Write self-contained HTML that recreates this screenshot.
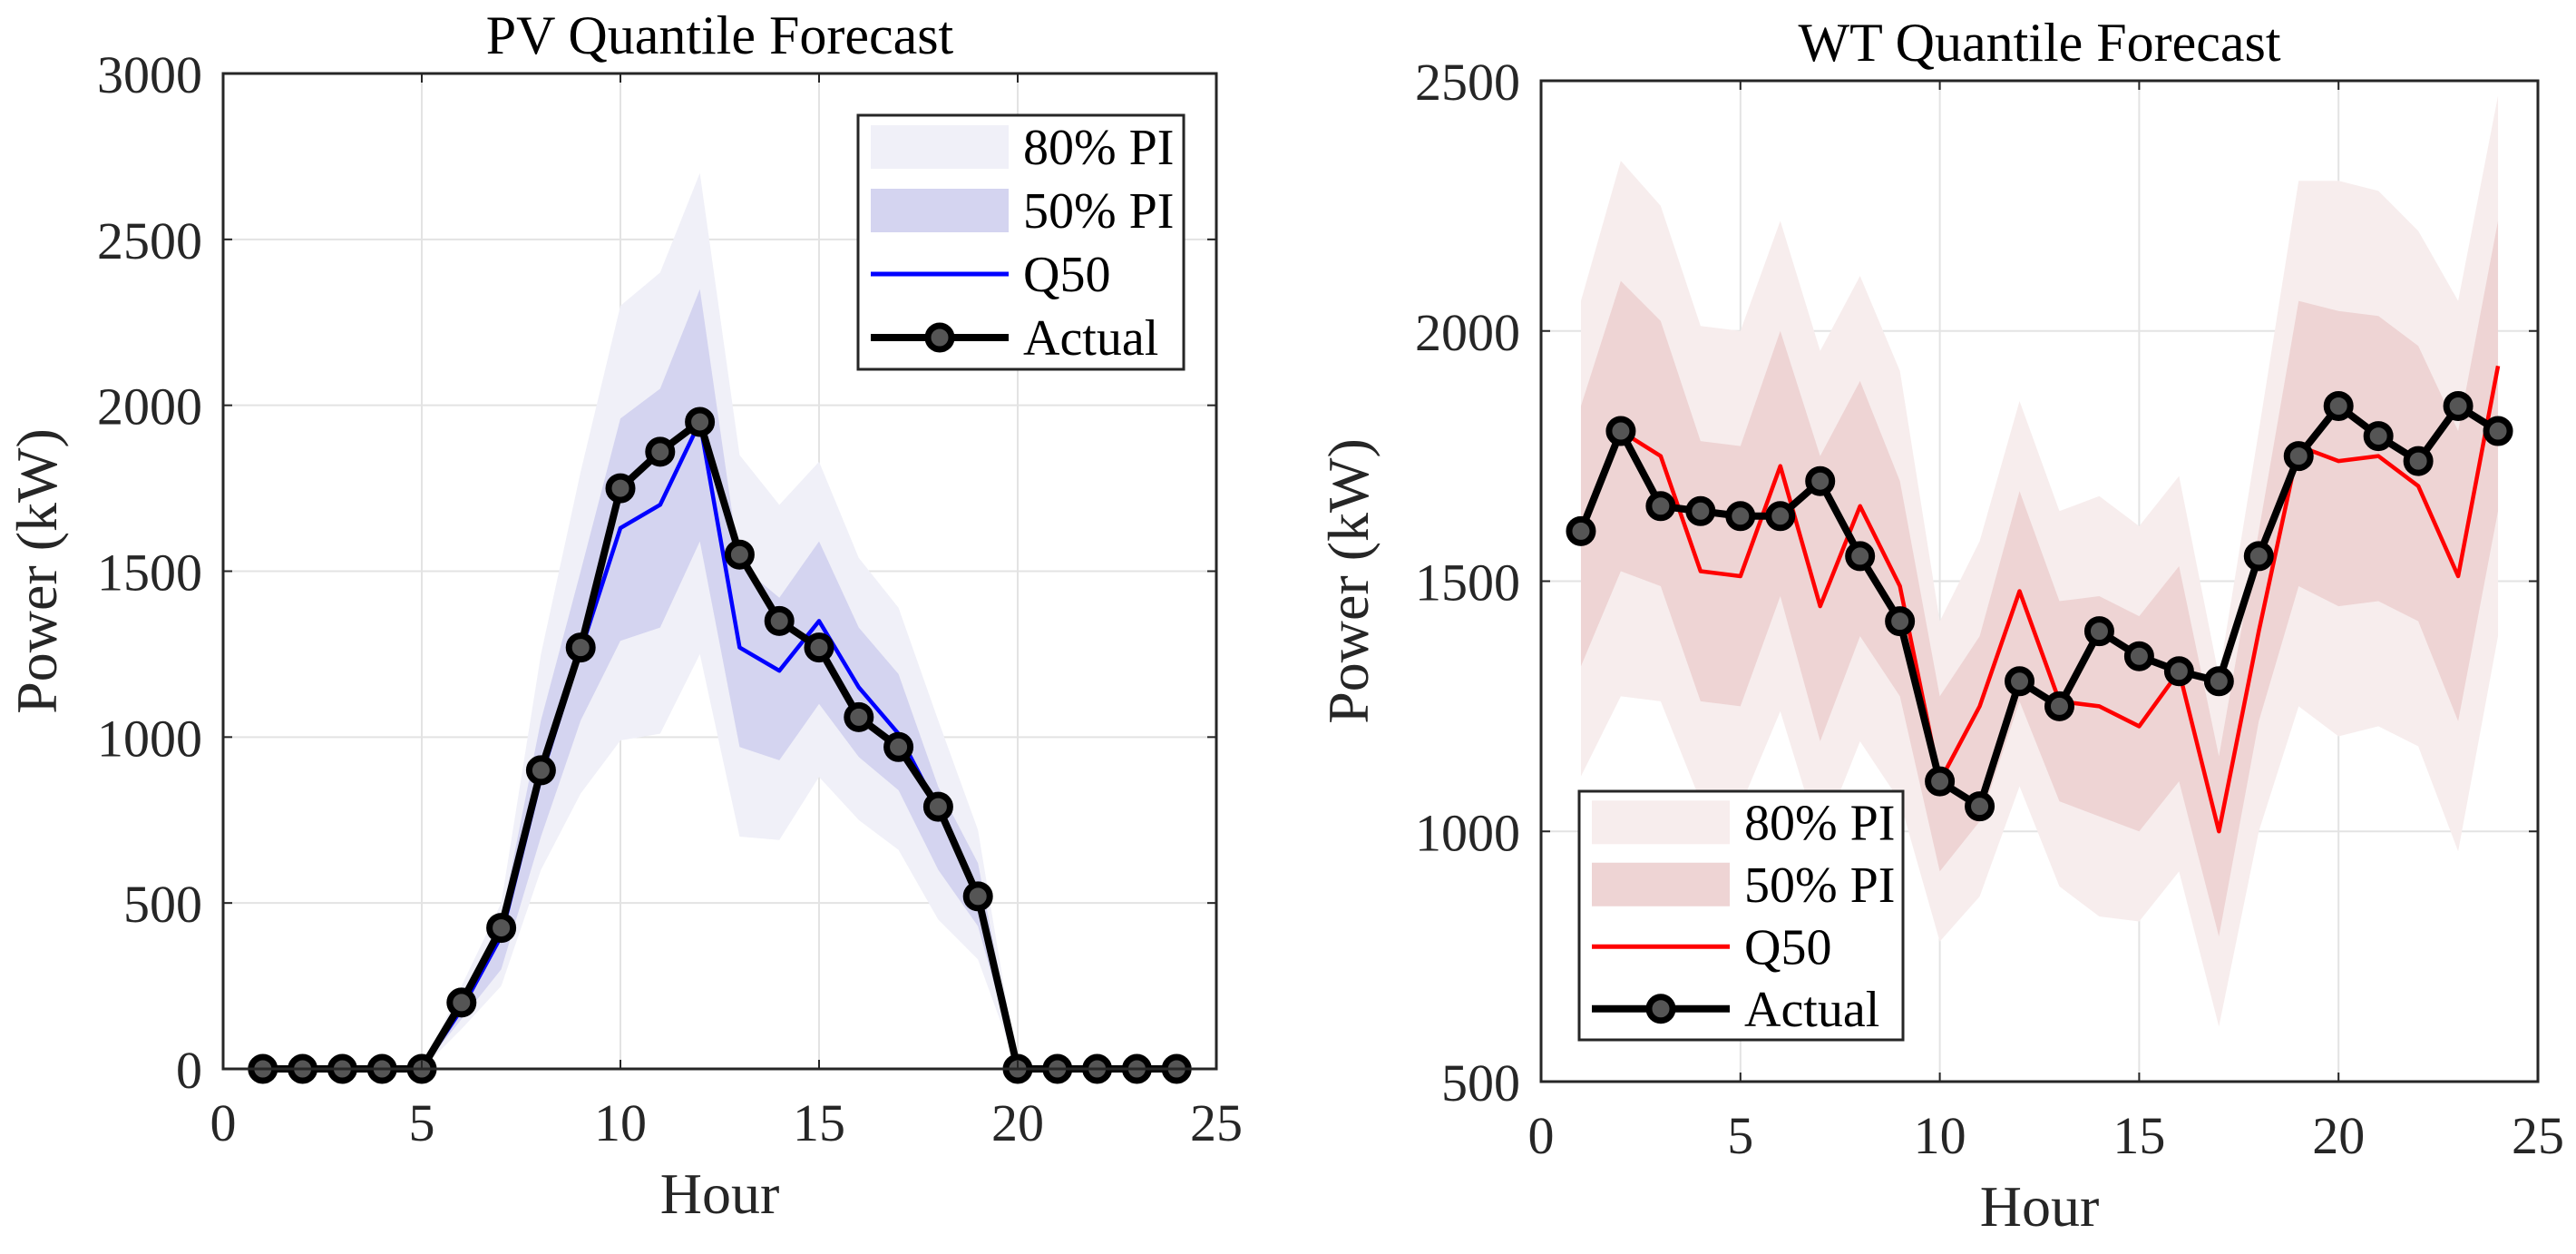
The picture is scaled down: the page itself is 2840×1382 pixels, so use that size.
<!DOCTYPE html>
<html><head><meta charset="utf-8"><style>
html,body{margin:0;padding:0;background:#fff;}
svg{display:block;font-family:"Liberation Serif",serif;}
</style></head><body>
<svg id="fig" width="2840" height="1382" viewBox="0 0 2840 1382"></svg>
<script>
const hours=[1,2,3,4,5,6,7,8,9,10,11,12,13,14,15,16,17,18,19,20,21,22,23,24];
const pvActual=[0,0,0,0,0,200,425,900,1270,1750,1860,1950,1550,1350,1270,1060,970,790,520,0,0,0,0,0];
const pvQ50=[0,0,0,0,0,180,400,880,1260,1630,1700,1950,1270,1200,1350,1150,1010,780,530,0,0,0,0,0];
const pvU50=[0,0,0,0,0,220,450,1050,1500,1960,2050,2350,1520,1420,1590,1330,1190,850,620,0,0,0,0,0];
const pvL50=[0,0,0,0,0,150,300,700,1050,1290,1330,1590,970,930,1100,940,840,600,430,0,0,0,0,0];
const pvU80=[0,0,0,0,0,250,500,1250,1800,2300,2400,2700,1850,1700,1830,1540,1390,1050,720,0,0,0,0,0];
const pvL80=[0,0,0,0,0,120,250,600,830,990,1010,1250,700,690,880,750,660,450,330,0,0,0,0,0];
const wtActual=[1600,1800,1650,1640,1630,1630,1700,1550,1420,1100,1050,1300,1250,1400,1350,1320,1300,1550,1750,1850,1790,1740,1850,1800];
const wtQ50=[1600,1800,1750,1520,1510,1730,1450,1650,1490,1100,1250,1480,1260,1250,1210,1320,1000,1400,1770,1740,1750,1690,1510,1930];
const wtU50=[1850,2100,2020,1780,1770,2000,1750,1900,1700,1270,1390,1680,1460,1470,1430,1530,1150,1600,2060,2040,2030,1970,1800,2220];
const wtL50=[1330,1520,1490,1260,1250,1470,1180,1390,1270,920,1020,1260,1060,1030,1000,1100,790,1220,1490,1450,1460,1420,1220,1640];
const wtU80=[2060,2340,2250,2010,2000,2220,1960,2110,1920,1420,1580,1860,1640,1670,1610,1710,1310,1800,2300,2300,2280,2200,2060,2470];
const wtL80=[1110,1270,1260,1060,1050,1240,980,1180,1060,780,870,1090,890,830,820,920,610,1000,1250,1190,1210,1170,960,1390];
const xTicks=[0,5,10,15,20,25];
const pvYTicks=[0,500,1000,1500,2000,2500,3000];
const wtYTicks=[500,1000,1500,2000,2500];

const NS="http://www.w3.org/2000/svg";
const svg=document.getElementById('fig');
function mk(tag,attrs,parent){const e=document.createElementNS(NS,tag);for(const k in attrs)e.setAttribute(k,attrs[k]);(parent||svg).appendChild(e);return e;}

function drawChart(o){
  const g=mk('g',{});
  
  
  const X=v=>o.x0+(v-0)/(25-0)*(o.x1-o.x0);
  const Y=v=>o.y1-(v-o.ymin)/(o.ymax-o.ymin)*(o.y1-o.y0);
  xTicks.forEach(t=>{const l=mk('line',{x1:X(t),x2:X(t),y1:o.y0,y2:o.y1,stroke:'#e3e3e3','stroke-width':2},g);
    });
  o.yTicks.forEach(t=>{const l=mk('line',{x1:o.x0,x2:o.x1,y1:Y(t),y2:Y(t),stroke:'#e3e3e3','stroke-width':2},g);
    });
  function band(up,lo,fill,name){
    let d='M'+hours.map((h,i)=>X(h)+','+Y(up[i])).join('L');
    for(let i=hours.length-1;i>=0;i--)d+='L'+X(hours[i])+','+Y(lo[i]);
    const p=mk('path',{d:d+'Z',fill:fill},g);
    
  }
  band(o.u80,o.l80,o.c80,'band-80pi');
  band(o.u50,o.l50,o.c50,'band-50pi');
  const q=mk('polyline',{points:hours.map((h,i)=>X(h)+','+Y(o.q50[i])).join(' '),fill:'none',stroke:o.qc,'stroke-width':4.5,'stroke-linejoin':'round'},g);
  
  const a=mk('polyline',{points:hours.map((h,i)=>X(h)+','+Y(o.act[i])).join(' '),fill:'none',stroke:'#000','stroke-width':8,'stroke-linejoin':'round'},g);
  
  hours.forEach((h,i)=>{const c=mk('circle',{cx:X(h),cy:Y(o.act[i]),r:13,fill:'#555',stroke:'#000','stroke-width':7},g);
    });
  const b=mk('rect',{x:o.x0,y:o.y0,width:o.x1-o.x0,height:o.y1-o.y0,fill:'none',stroke:'#262626','stroke-width':3},g);
  
  xTicks.forEach(t=>{mk('line',{x1:X(t),x2:X(t),y1:o.y1,y2:o.y1-10,stroke:'#262626','stroke-width':2},g);mk('line',{x1:X(t),x2:X(t),y1:o.y0,y2:o.y0+10,stroke:'#262626','stroke-width':2},g);
    const tx=mk('text',{x:X(t),y:o.y1+79,'font-size':58,'text-anchor':'middle',fill:'#262626'},g);tx.textContent=t;
    });
  o.yTicks.forEach(t=>{mk('line',{x1:o.x0,x2:o.x0+10,y1:Y(t),y2:Y(t),stroke:'#262626','stroke-width':2},g);mk('line',{x1:o.x1,x2:o.x1-10,y1:Y(t),y2:Y(t),stroke:'#262626','stroke-width':2},g);
    const tx=mk('text',{x:o.x0-23,y:Y(t)+21,'font-size':58,'text-anchor':'end',fill:'#262626'},g);tx.textContent=t;
    });
  const ti=mk('text',{x:(o.x0+o.x1)/2,y:o.y0-22,'font-size':60,'text-anchor':'middle',fill:'#000'},g);ti.textContent=o.title;
  
  const xl=mk('text',{x:(o.x0+o.x1)/2,y:o.y1+159,'font-size':64,'text-anchor':'middle',fill:'#262626'},g);xl.textContent='Hour';
  
  const yl=mk('text',{x:0,y:0,'font-size':64,'text-anchor':'middle',fill:'#262626',transform:`translate(${o.ylx},${(o.y0+o.y1)/2}) rotate(-90)`},g);yl.textContent='Power (kW)';
  
  const L=o.leg;
  const lg=mk('g',{},g);
  mk('rect',{x:L.x,y:L.y,width:L.w,height:L.h,fill:'#fff',stroke:'#262626','stroke-width':3},lg);
  const rows=['80% PI','50% PI','Q50','Actual'];
  const rh=L.h/4;
  rows.forEach((r,i)=>{const cy=L.y+rh*(i+0.5);const sx=L.x+14,sw=152;
    if(i==0)mk('rect',{x:sx,y:cy-24,width:sw,height:48,fill:o.c80},lg);
    if(i==1)mk('rect',{x:sx,y:cy-24,width:sw,height:48,fill:o.c50},lg);
    if(i==2)mk('line',{x1:sx,x2:sx+sw,y1:cy,y2:cy,stroke:o.qc,'stroke-width':5},lg);
    if(i==3){mk('line',{x1:sx,x2:sx+sw,y1:cy,y2:cy,stroke:'#000','stroke-width':8},lg);mk('circle',{cx:sx+sw/2,cy:cy,r:13,fill:'#555',stroke:'#000','stroke-width':7},lg);}
    const t=mk('text',{x:sx+sw+16,y:cy+19,'font-size':56,fill:'#000'},lg);t.textContent=r;
    });
}
drawChart({name:'pv-chart',title:'PV Quantile Forecast',x0:246,x1:1341,y0:81,y1:1178,ymin:0,ymax:3000,yTicks:pvYTicks,ylx:62,
  act:pvActual,q50:pvQ50,u50:pvU50,l50:pvL50,u80:pvU80,l80:pvL80,c80:'#f0f0f8',c50:'#d4d4f0',qc:'#0000ff',
  leg:{x:946,y:127,w:359,h:280}});
drawChart({name:'wt-chart',title:'WT Quantile Forecast',x0:1699,x1:2798,y0:89,y1:1192,ymin:500,ymax:2500,yTicks:wtYTicks,ylx:1508,
  act:wtActual,q50:wtQ50,u50:wtU50,l50:wtL50,u80:wtU80,l80:wtL80,c80:'#f7eded',c50:'#eed4d4',qc:'#ff0000',
  leg:{x:1741,y:872,w:357,h:274}});
</script>
</body></html>
